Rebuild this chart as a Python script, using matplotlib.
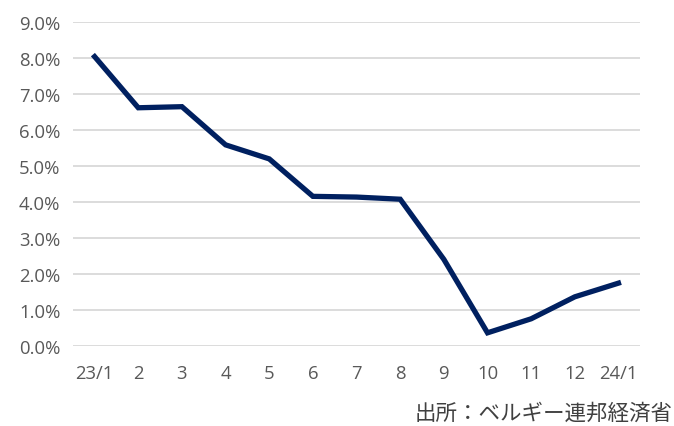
import matplotlib
matplotlib.use("Agg")
import matplotlib.pyplot as plt
from matplotlib.ticker import PercentFormatter

months = ["23/1", "2", "3", "4", "5", "6", "7", "8", "9", "10", "11", "12", "24/1"]
inflation = [8.04, 6.62, 6.65, 5.59, 5.20, 4.16, 4.14, 4.08, 2.41, 0.37, 0.76, 1.37, 1.75]

plt.rcParams['font.family'] = ['Noto Sans CJK JP', 'DejaVu Sans']

fig = plt.figure(figsize=(6.74, 4.27), dpi=100)
ax = fig.add_axes([0.108, 0.187, 0.842, 0.759])

x = list(range(len(months)))
ax.plot(x, inflation, color="#002060", linewidth=3.8, solid_joinstyle="miter")

ax.set_xlim(-0.5, len(months) - 0.5)
ax.set_ylim(0, 9)
ax.set_yticks(range(0, 10))
ax.yaxis.set_major_formatter(PercentFormatter(decimals=1))
ax.set_xticks(x)
ax.set_xticklabels(months)

ax.grid(axis="y", color="#d9d9d9", linewidth=1.3)
ax.set_axisbelow(True)
for s in ax.spines.values():
    s.set_visible(False)
ax.tick_params(length=0, labelsize=13.3, colors="#595959", pad=9)
ax.tick_params(axis="x", pad=13)
for lab in ax.get_xticklabels() + ax.get_yticklabels():
    lab.set_family(['Open Sans', 'DejaVu Sans'])

fig.text(0.998, 0.005, "出所：ベルギー連邦経済省", ha="right", va="bottom",
         fontsize=15.5, color="#404040")

fig.savefig("out.png", dpi=100, facecolor="white")
